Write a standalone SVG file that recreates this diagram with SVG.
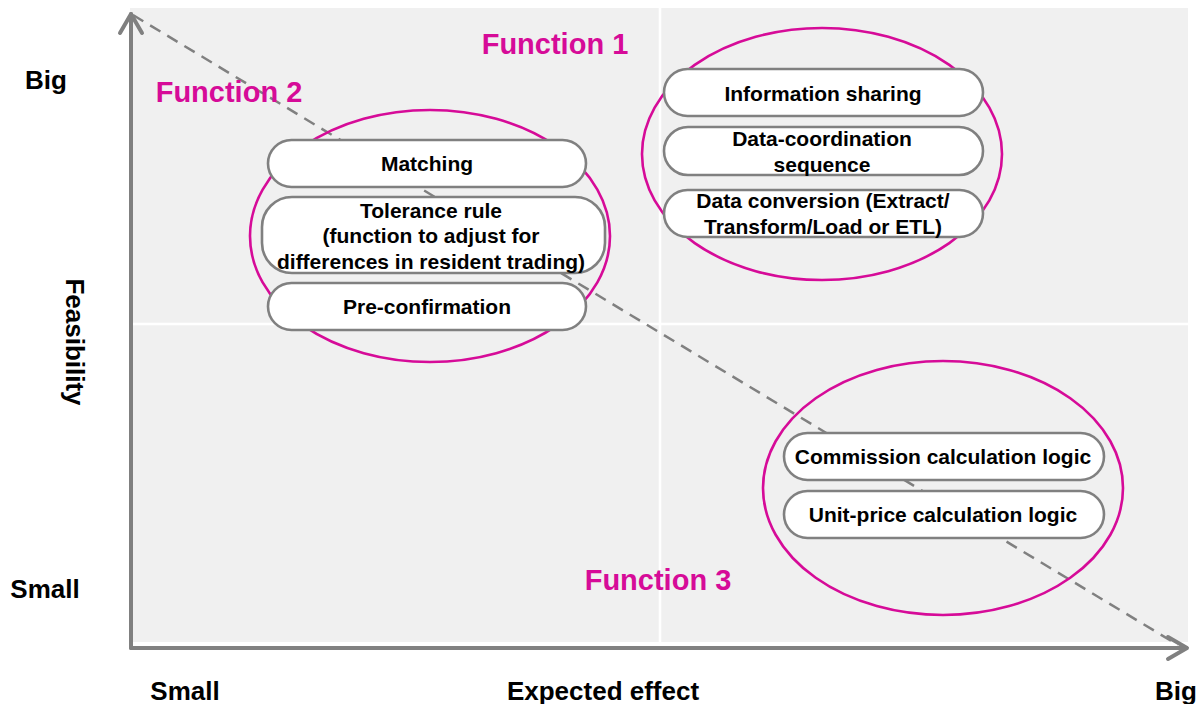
<svg xmlns="http://www.w3.org/2000/svg" width="1203" height="704" viewBox="0 0 1203 704">
<style>
.axis{stroke:#808080;stroke-width:4;fill:none;stroke-linecap:round;stroke-linejoin:round}
.dash{stroke:#808080;stroke-width:2.5;fill:none;stroke-dasharray:12 8}
.grp{fill:none;stroke:#D60B98;stroke-width:2.6}
.pill{fill:#FFFFFF;stroke:#808080;stroke-width:2.6}
.nt{font-family:"Liberation Sans",Arial,sans-serif;font-weight:bold;font-size:21px;fill:#000;text-anchor:middle}
.ax{font-family:"Liberation Sans",Arial,sans-serif;font-weight:bold;font-size:26px;fill:#000;text-anchor:middle}
.fn{font-family:"Liberation Sans",Arial,sans-serif;font-weight:bold;font-size:29px;fill:#D60B98;text-anchor:middle}
</style>
<rect x="0" y="0" width="1203" height="704" fill="#FFFFFF"/>
<g id="plot-area">
<rect x="130" y="8" width="1058" height="634" fill="#F0F0F0"/>
<line x1="660" y1="8" x2="660" y2="642" stroke="#FFFFFF" stroke-width="2.5"/>
<line x1="130" y1="324" x2="1188" y2="324" stroke="#FFFFFF" stroke-width="2.5"/>
</g>
<g id="connectors">
<line class="dash" x1="133" y1="15" x2="1178" y2="645"/>
<path class="axis" d="M131 648 V14"/>
<path class="axis" d="M120 33 L131 14 L142 33"/>
<path class="axis" d="M131 648 H1186"/>
<path class="axis" d="M1168 637 L1187 648 L1168 659"/>
</g>
<g id="axis-labels">
<text class="ax" x="46" y="89">Big</text>
<text class="ax" x="45" y="598">Small</text>
<text class="ax" x="185" y="700">Small</text>
<text class="ax" x="603" y="700">Expected effect</text>
<text class="ax" x="1176" y="700">Big</text>
<text class="ax" transform="translate(66,342) rotate(90)" x="0" y="0">Feasibility</text>
</g>
<g id="function-1">
<ellipse class="grp" cx="822" cy="154" rx="180" ry="126"/>
<text class="fn" x="555" y="54">Function 1</text>
</g>
<g id="function-2">
<ellipse class="grp" cx="430" cy="236" rx="180" ry="126"/>
<text class="fn" x="229" y="102">Function 2</text>
</g>
<g id="function-3">
<ellipse class="grp" cx="943" cy="488" rx="180" ry="127"/>
<text class="fn" x="658" y="590">Function 3</text>
</g>
<g id="node-matching">
<rect class="pill" x="268" y="140" width="318" height="47" rx="23.5"/>
<text class="nt" x="427" y="171">Matching</text>
</g>
<g id="node-tolerance">
<rect class="pill" x="262" y="197" width="343" height="76" rx="30"/>
<text class="nt" x="431" y="218">Tolerance rule</text>
<text class="nt" x="431" y="243">(function to adjust for</text>
<text class="nt" x="431" y="269">differences in resident trading)</text>
</g>
<g id="node-preconfirmation">
<rect class="pill" x="268" y="283" width="318" height="47" rx="23.5"/>
<text class="nt" x="427" y="314">Pre-confirmation</text>
</g>
<g id="node-info-sharing">
<rect class="pill" x="664" y="69" width="319" height="47" rx="23.5"/>
<text class="nt" x="823" y="101">Information sharing</text>
</g>
<g id="node-data-coordination">
<rect class="pill" x="664" y="127" width="319" height="48" rx="24"/>
<text class="nt" x="822" y="146">Data-coordination</text>
<text class="nt" x="822" y="172">sequence</text>
</g>
<g id="node-data-conversion">
<rect class="pill" x="664" y="190" width="319" height="47" rx="23.5"/>
<text class="nt" x="823" y="208">Data conversion (Extract/</text>
<text class="nt" x="823" y="234">Transform/Load or ETL)</text>
</g>
<g id="node-commission">
<rect class="pill" x="784" y="433" width="320" height="47" rx="23.5"/>
<text class="nt" x="943" y="464">Commission calculation logic</text>
</g>
<g id="node-unit-price">
<rect class="pill" x="784" y="491" width="320" height="47" rx="23.5"/>
<text class="nt" x="943" y="522">Unit-price calculation logic</text>
</g>
</svg>
